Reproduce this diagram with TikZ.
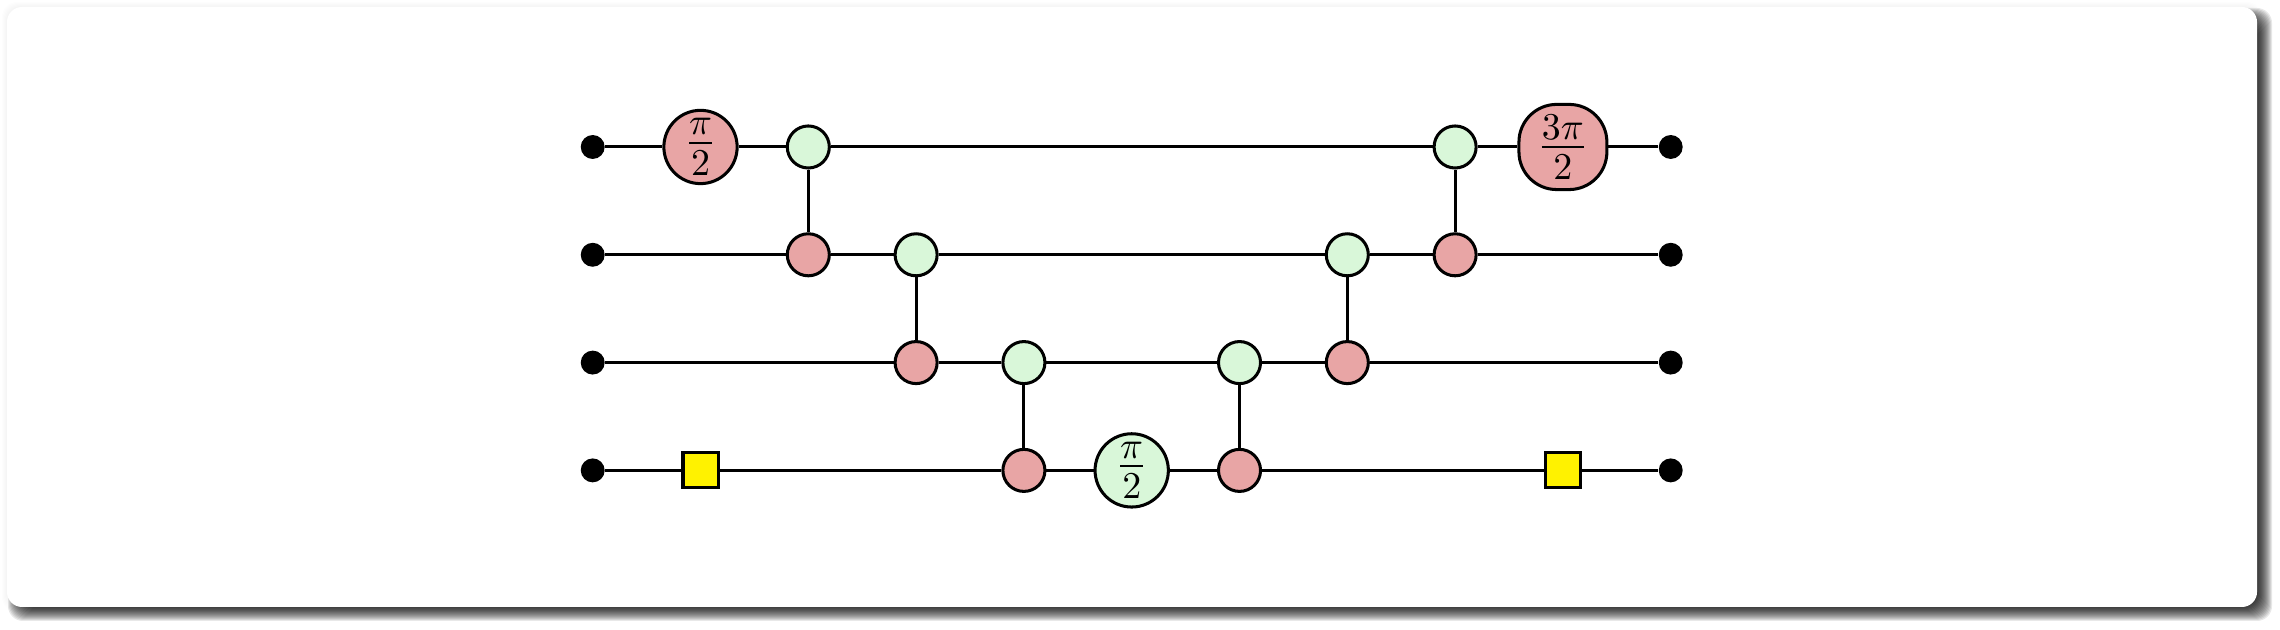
\documentclass[tikz,border=0pt]{standalone}
\definecolor{pinkz}{HTML}{E8A5A5}
\definecolor{greenz}{HTML}{D9F7D9}
\tikzset{
  wire/.style={line width=0.8pt,black},
  term/.style={circle,fill=black,inner sep=0pt,minimum size=0.222cm},
  gz/.style={circle,draw=black,line width=0.8pt,fill=greenz,inner sep=0pt,minimum size=0.39cm},
  rz/.style={circle,draw=black,line width=0.8pt,fill=pinkz,inner sep=0pt,minimum size=0.39cm},
  phase/.style={circle,draw=black,line width=0.8pt,inner sep=0pt,minimum size=0.68cm,font=\Large},
  bigphase/.style={rectangle,rounded corners=0.35cm,draw=black,line width=0.8pt,fill=pinkz,inner sep=0pt,minimum width=0.816cm,minimum height=0.79cm,font=\Large},
  hbox/.style={rectangle,draw=black,line width=0.8pt,fill=yellow,inner sep=0pt,minimum size=0.325cm}
}
\begin{document}
\begin{tikzpicture}[x=0.0092764cm,y=-0.0092764cm]
\useasboundingbox (0,0) rectangle (2280,630);
% soft glow and drop shadow of the card
\foreach \s in {0,1,2,3,4,5}{
  \fill[black,opacity=0.008,rounded corners=0.14cm] (7-\s,7-\s) rectangle (2257+\s,607+\s);
}
\foreach \s in {-7,-6,...,7}{
  \fill[black,opacity=0.09,rounded corners=0.14cm] (15-\s,15-\s) rectangle (2265+\s,614+\s);
}
\fill[white,rounded corners=0.14cm] (7,7) rectangle (2257,607);
% row y: 147, 254.8, 362.6, 470.4; column x: 592.7 + k*107.8
\node[term] (a0) at (592.7,147) {};
\node[term] (b0) at (592.7,254.8) {};
\node[term] (c0) at (592.7,362.6) {};
\node[term] (d0) at (592.7,470.4) {};
\node[term] (a9) at (1670.7,147) {};
\node[term] (b9) at (1670.7,254.8) {};
\node[term] (c9) at (1670.7,362.6) {};
\node[term] (d9) at (1670.7,470.4) {};
\node[phase,fill=pinkz] (aP) at (700.5,147) {$\frac{\pi}{2}$};
\node[bigphase] (aQ) at (1562.9,147) {$\frac{3\pi}{2}$};
\node[phase,fill=greenz] (dP) at (1131.7,470.4) {$\frac{\pi}{2}$};
\node[hbox] (dH1) at (700.5,470.4) {};
\node[hbox] (dH2) at (1562.9,470.4) {};
\node[gz] (g1) at (808.3,147) {};
\node[rz] (r1) at (808.3,254.8) {};
\node[gz] (g2) at (916.1,254.8) {};
\node[rz] (r2) at (916.1,362.6) {};
\node[gz] (g3) at (1023.9,362.6) {};
\node[rz] (r3) at (1023.9,470.4) {};
\node[gz] (g4) at (1239.5,362.6) {};
\node[rz] (r4) at (1239.5,470.4) {};
\node[gz] (g5) at (1347.3,254.8) {};
\node[rz] (r5) at (1347.3,362.6) {};
\node[gz] (g6) at (1455.1,147) {};
\node[rz] (r6) at (1455.1,254.8) {};
\draw[wire] (a0)--(aP) (aP)--(g1) (g1)--(g6) (g6)--(aQ) (aQ)--(a9);
\draw[wire] (b0)--(r1) (r1)--(g2) (g2)--(g5) (g5)--(r6) (r6)--(b9);
\draw[wire] (c0)--(r2) (r2)--(g3) (g3)--(g4) (g4)--(r5) (r5)--(c9);
\draw[wire] (d0)--(dH1) (dH1)--(r3) (r3)--(dP) (dP)--(r4) (r4)--(dH2) (dH2)--(d9);
\draw[wire] (g1)--(r1) (g2)--(r2) (g3)--(r3) (g4)--(r4) (g5)--(r5) (g6)--(r6);
\end{tikzpicture}
\end{document}
